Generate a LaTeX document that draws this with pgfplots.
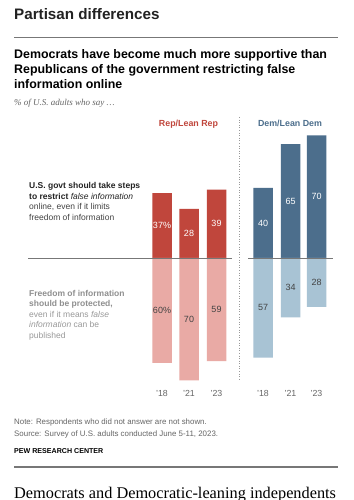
\documentclass[border=0pt]{standalone}
\usepackage{pgfplots}
\pgfplotsset{compat=1.18}
\usepackage{fontspec}
\setmainfont{Liberation Sans}
\newfontfamily\seriffont{Liberation Serif}
\definecolor{repd}{HTML}{C0463C}
\definecolor{repl}{HTML}{E9AAA5}
\definecolor{demd}{HTML}{4C6E8C}
\definecolor{deml}{HTML}{A8C3D4}
\definecolor{txtdark}{HTML}{222222}
\definecolor{txtgray}{HTML}{666666}
\definecolor{lblgray}{HTML}{999999}
\definecolor{rulegray}{HTML}{777777}
\newcommand{\fs}[1]{\fontsize{#1bp}{#1bp}\selectfont}
\begin{document}
\begin{tikzpicture}[x=1bp,y=1bp]
\clip (0,0) rectangle (353,500);
\fill[white] (0,0) rectangle (353,500);
\begin{axis}[
  at={(0bp,242bp)}, anchor=origin,
  x=1bp, y=1.75bp,
  xmin=0, xmax=353, ymin=-72.6, ymax=75,
  axis x line*=bottom, axis y line=none,
  x axis line style={draw=none},
  xtick={162,189,216.5,263,290.5,316.5},
  xticklabels={’18,’21,’23,’18,’21,’23},
  major tick length=0pt,
  xticklabel style={font=\fs{8.8}, text=txtgray, yshift=-1.5bp},
  ytick=\empty,
  clip=false,
]
\addplot[ybar, bar width=19.5, bar shift=0pt, fill=repd, draw=none] coordinates {(162,37) (189,28) (216.5,39)};
\addplot[ybar, bar width=19.5, bar shift=0pt, fill=repl, draw=none] coordinates {(162,-60) (189,-70) (216.5,-59)};
\addplot[ybar, bar width=19.5, bar shift=0pt, fill=demd, draw=none] coordinates {(263,40) (290.5,65) (316.5,70)};
\addplot[ybar, bar width=19.5, bar shift=0pt, fill=deml, draw=none] coordinates {(263,-57) (290.5,-34) (316.5,-28)};
\addplot[draw=none, mark=none, nodes near coords, point meta=explicit symbolic,
  every node near coord/.append style={anchor=center, font=\fs{9}, text=white}]
  coordinates {(162,18.5)[37\%] (189,14)[28] (216.5,19.5)[39] (263,20)[40] (290.5,32.5)[65] (316.5,35)[70]};
\addplot[draw=none, mark=none, nodes near coords, point meta=explicit symbolic,
  every node near coord/.append style={anchor=center, font=\fs{9}, text=txtdark!85}]
  coordinates {(162,-30)[60\%] (189,-35)[70] (216.5,-29.5)[59] (263,-28.5)[57] (290.5,-17)[34] (316.5,-14)[28]};
\end{axis}
% baselines and separator
\draw[rulegray, line width=0.8bp] (28,242) -- (232,242);
\draw[rulegray, line width=0.8bp] (248,242) -- (333,242);
\draw[lblgray, line width=0.6bp, dotted] (239,383) -- (239,120);
% header
\node[anchor=base west, inner sep=0, font=\fs{15.2}\bfseries, text=txtdark] at (14,480.5) {Partisan differences};
\draw[rulegray, line width=1.3bp] (14,462.3) -- (338,462.3);
\node[anchor=base west, inner sep=0, font=\fs{12.4}\bfseries, text=black] at (14,441) {Democrats have become much more supportive than};
\node[anchor=base west, inner sep=0, font=\fs{12.4}\bfseries, text=black] at (14,426) {Republicans of the government restricting false};
\node[anchor=base west, inner sep=0, font=\fs{12.4}\bfseries, text=black] at (14,411) {information online};
\node[anchor=base west, inner sep=0, font=\seriffont\itshape\fs{9}, text=txtgray] at (14,394.5) {\% of U.S. adults who say \dots};
% group titles
\node[anchor=base, inner sep=0, font=\fs{8.85}\bfseries, text=repd] at (188.5,373) {Rep/Lean Rep};
\node[anchor=base, inner sep=0, font=\fs{8.85}\bfseries, text=demd] at (290,373) {Dem/Lean Dem};
% left labels
\begin{scope}[every node/.style={anchor=base west, inner sep=0, font=\fs{8.5}}]
\node[text=txtdark] at (29,311.3) {\bfseries U.S. govt should take steps};
\node[text=txtdark] at (29,300.8) {\textbf{to restrict} \textit{false information}};
\node[text=txtdark!85] at (29,290.3) {online, even if it limits};
\node[text=txtdark!85] at (29,279.8) {freedom of information};
\node[text=lblgray!110] at (29,203.5) {\bfseries Freedom of information};
\node[text=lblgray!110] at (29,193) {\bfseries should be protected,};
\node[text=lblgray] at (29,182.5) {even if it means \textit{false}};
\node[text=lblgray] at (29,172) {\textit{information} can be};
\node[text=lblgray] at (29,161.5) {published};
\end{scope}
% footer
\node[anchor=base west, inner sep=0, font=\fs{7.9}, text=txtgray] at (14,75.5) {Note: Respondents who did not answer are not shown.};
\node[anchor=base west, inner sep=0, font=\fs{7.9}, text=txtgray] at (14,63) {Source: Survey of U.S. adults conducted June 5-11, 2023.};
\node[anchor=base west, inner sep=0, font=\fs{7.1}\bfseries, text=black] at (14,46.7) {PEW RESEARCH CENTER};
\draw[rulegray, line width=1.3bp] (14,33) -- (338,33);
\node[anchor=base west, inner sep=0, font=\seriffont\fs{16.3}, text=black] at (14,1.6) {Democrats and Democratic-leaning independents};
\end{tikzpicture}
\end{document}
